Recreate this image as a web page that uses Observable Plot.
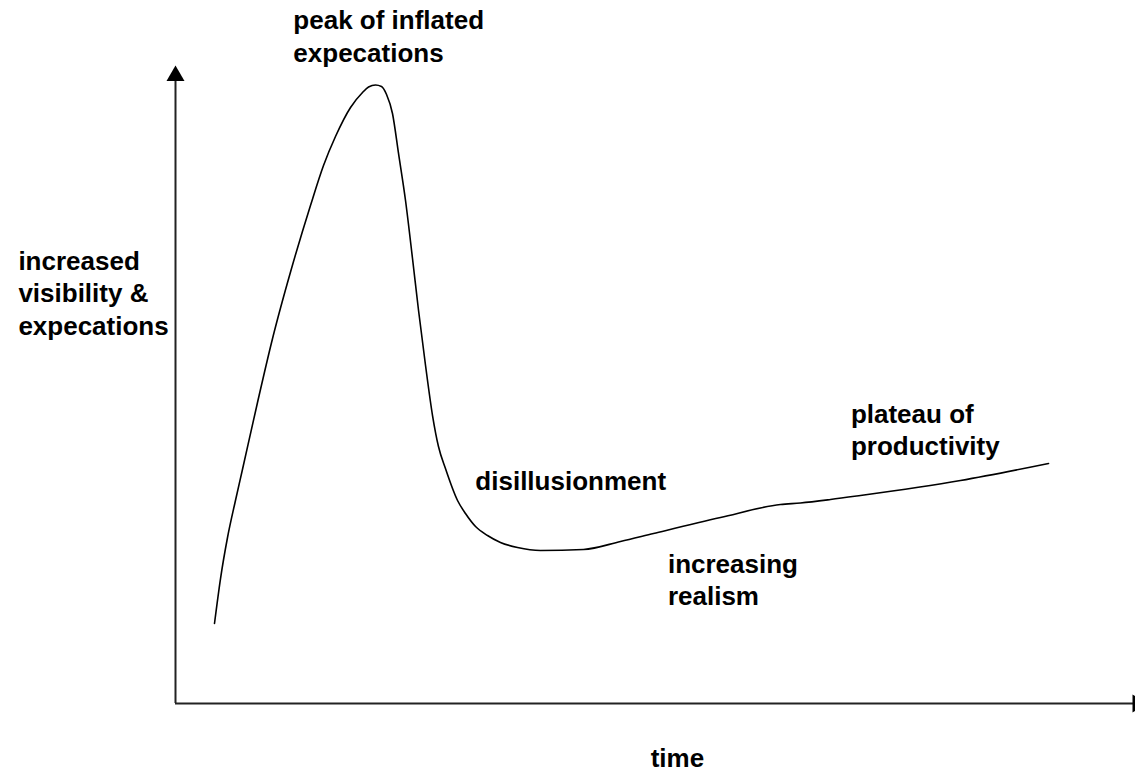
<!DOCTYPE html>
<html>
<head>
<meta charset="utf-8">
<script src="https://cdn.jsdelivr.net/npm/d3@7"></script>
<script src="https://cdn.jsdelivr.net/npm/@observablehq/plot@0.6"></script>
<style>
  html, body { margin: 0; padding: 0; background: #fff; }
  #chart svg { display: block; }
</style>
</head>
<body>
<div id="chart"></div>
<script>
// Hype curve (time 0–100, visibility 0–100)
const time = [4.07, 4.70, 5.43, 6.26, 6.99, 8.56, 10.13, 12.11, 14.09, 15.45, 16.70, 18.27, 19.52, 20.15, 20.88, 21.50, 22.03, 22.65, 23.28, 24.01, 24.74, 25.37, 26.10, 26.83, 27.45, 28.18, 29.44, 30.27, 31.32, 32.57, 33.92, 35.70, 38.10, 42.59, 46.45, 49.90, 56.89, 63.15, 65.24, 68.37, 71.50, 81.94, 91.13];
const visibility = [12.54, 19.59, 26.02, 31.82, 36.68, 47.18, 57.21, 68.18, 78.06, 84.33, 88.87, 93.42, 95.77, 96.63, 96.94, 96.71, 95.45, 92.48, 86.21, 78.84, 69.75, 61.60, 52.98, 45.14, 40.28, 36.83, 31.82, 29.78, 27.74, 26.33, 25.24, 24.45, 23.98, 24.14, 25.39, 26.65, 29.15, 31.19, 31.43, 31.97, 32.60, 34.95, 37.62];

// Annotation labels and the point (time, visibility) where each is anchored
const labelTexts = ["peak of inflated\nexpecations", "increased\nvisibility &\nexpecations", "disillusionment", "increasing\nrealism", "plateau of\nproductivity", "time"];
const labelTime = [12.3, -16.4, 31.3, 51.4, 70.5, 49.6];
const labelLevel = [100.6, 57.8, 33.5, 15.4, 38.9, -9.9];

const curve = time.map((t, i) => ({time: t, visibility: visibility[i]}));
const labels = labelTexts.map((text, i) => ({text, time: labelTime[i], visibility: labelLevel[i]}));

const font = "'Liberation Sans', Arial, sans-serif";

const chart = Plot.plot({
  width: 1135,
  height: 771,
  marginLeft: 175,
  marginRight: 2,
  marginTop: 65,
  marginBottom: 68,
  style: {background: "#fff", fontFamily: font, overflow: "visible"},
  x: {domain: [0, 100], axis: null},
  y: {domain: [0, 100], axis: null},
  marks: [
    Plot.ruleX([0], {y1: 0, y2: 97.5, stroke: "#222", strokeWidth: 2}),
    Plot.ruleY([0], {x1: 0, x2: 100, stroke: "#222", strokeWidth: 2}),
    Plot.dot([{time: 0, visibility: 100}], {x: "time", y: "visibility", symbol: "triangle", r: 6.68, fill: "#000", stroke: "none", dy: 10.4}),
    Plot.dot([{time: 100, visibility: 0}], {x: "time", y: "visibility", symbol: "triangle", r: 6.68, fill: "#000", stroke: "none", rotate: 90, dx: 4.2}),
    Plot.line(curve, {x: "time", y: "visibility", curve: "monotone-x", stroke: "#000", strokeWidth: 1.6}),
    Plot.text(labels, {
      x: "time", y: "visibility", text: "text",
      textAnchor: "start", lineAnchor: "bottom", lineHeight: 1.25,
      fontSize: 26, fontWeight: "bold", fontFamily: font, fill: "#000"
    })
  ]
});

document.getElementById("chart").appendChild(chart);
</script>
</body>
</html>
